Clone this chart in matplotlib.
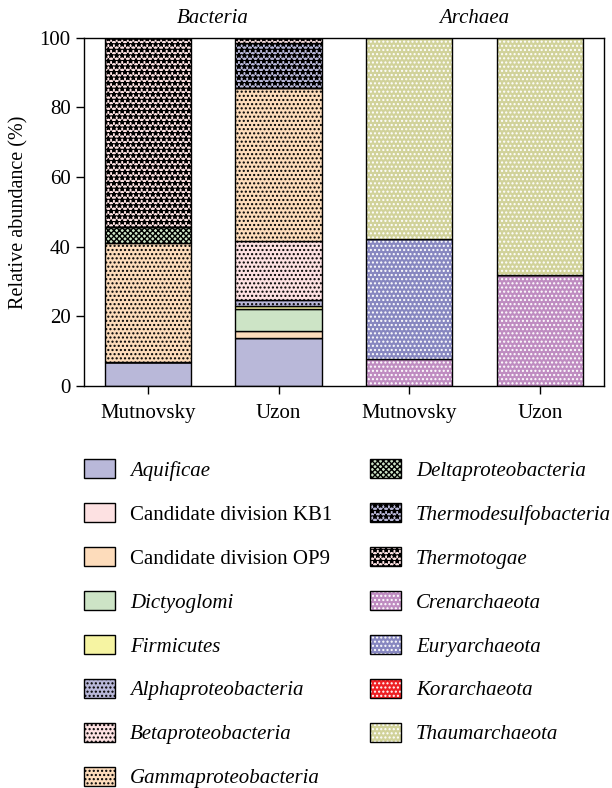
import numpy as np
import matplotlib
matplotlib.use('Agg')
import matplotlib.pyplot as plt
from matplotlib.patches import Patch
from matplotlib.legend_handler import HandlerTuple

plt.rcParams['font.family'] = 'Liberation Serif'
plt.rcParams['hatch.linewidth'] = 1.0

# samples (bars) and domain labels
samples = ['Mutnovsky', 'Uzon', 'Mutnovsky', 'Uzon']
domains = ['Bacteria', 'Archaea']

# relative abundance (%) per taxon, one value per bar
taxa = ['Aquificae', 'Candidate division KB1', 'Candidate division OP9', 'Dictyoglomi',
        'Firmicutes', 'Alphaproteobacteria', 'Betaproteobacteria', 'Gammaproteobacteria',
        'Deltaproteobacteria', 'Thermodesulfobacteria', 'Thermotogae',
        'Crenarchaeota', 'Euryarchaeota', 'Korarchaeota', 'Thaumarchaeota']
aquificae = [6.9, 13.7, 0, 0]
kb1 = [0, 0, 0, 0]
op9 = [0, 2.1, 0, 0]
dictyoglomi = [0, 6.3, 0, 0]
firmicutes = [0, 1.0, 0, 0]
alpha = [0, 1.6, 0, 0]
beta = [0, 17.1, 0, 0]
gamma = [34.2, 43.7, 0, 0]
delta = [4.6, 0, 0, 0]
thermodesulfo = [0, 13.1, 0, 0]
thermotogae = [54.3, 1.4, 0, 0]
crenarchaeota = [0, 0, 7.7, 31.9]
euryarchaeota = [0, 0, 34.5, 0]
korarchaeota = [0, 0, 0, 0]
thaumarchaeota = [0, 0, 57.8, 68.1]
values = [aquificae, kb1, op9, dictyoglomi, firmicutes, alpha, beta, gamma, delta,
          thermodesulfo, thermotogae, crenarchaeota, euryarchaeota, korarchaeota, thaumarchaeota]

colors = ['#b9b8d9', '#fde1e2', '#fddcbb', '#cde4c6', '#f6f4a2', '#b9b8d9', '#fde1e2', '#fddcbb',
          '#cde4c6', '#b9b8d9', '#fde1e2', '#bf8cc1', '#8787c0', '#ee2024', '#d1d29a']
hatches = [None, None, None, None, None, '....', '....', '....', 'xxxxxx', '***', '***',
           '....', '....', '....', '....']
italic = [True, False, False, True, True, True, True, True, True, True, True, True, True, True, True]
white_dots = [False] * 11 + [True] * 4

fs = 15

fig = plt.figure(figsize=(6.12, 7.88), dpi=100)
ax = fig.add_axes([0.137, 0.510, 0.850, 0.442])

x = np.arange(len(samples))
width = 0.66
bottom = np.zeros(len(samples))
handles = []
for i, v in enumerate(values):
    v = np.array(v, dtype=float)
    if white_dots[i]:
        ax.bar(x, v, width, bottom=bottom, color=colors[i], edgecolor='white',
               hatch=hatches[i], linewidth=0)
        ax.bar(x, v, width, bottom=bottom, fill=False, edgecolor='black', linewidth=1.0)
        h = (Patch(facecolor=colors[i], edgecolor='white', hatch=hatches[i], linewidth=0),
             Patch(fill=False, edgecolor='black', linewidth=1.0))
    else:
        ax.bar(x, v, width, bottom=bottom, color=colors[i], edgecolor='black',
               hatch=hatches[i], linewidth=1.0)
        h = Patch(facecolor=colors[i], edgecolor='black', hatch=hatches[i], linewidth=1.0)
    handles.append(h)
    bottom += v

ax.set_xlim(-0.49, 3.49)
ax.set_ylim(0, 100)
ax.set_yticks([0, 20, 40, 60, 80, 100])
ax.set_xticks(x)
ax.set_xticklabels(samples)
ax.tick_params(axis='both', direction='out', length=6, width=1, labelsize=fs)
ax.tick_params(axis='x', pad=7)
ax.set_ylabel('Relative abundance (%)', fontsize=14.5, labelpad=8)
for s in ax.spines.values():
    s.set_linewidth(1.0)

for gx, name in zip([0.5, 2.5], domains):
    ax.text(gx, 1.055, name, transform=ax.get_xaxis_transform(), ha='center', va='center',
            fontsize=fs, style='italic')

leg = fig.legend(handles, taxa, ncol=2, loc='upper left', bbox_to_anchor=(0.106, 0.441),
                 frameon=False, fontsize=fs, handlelength=1.5, handleheight=1.0,
                 handletextpad=0.72, labelspacing=1.08, columnspacing=1.8,
                 handler_map={tuple: HandlerTuple(ndivide=1, pad=0)})
for t, it in zip(leg.get_texts(), italic):
    if it:
        t.set_style('italic')

fig.savefig('out.png', dpi=100)
